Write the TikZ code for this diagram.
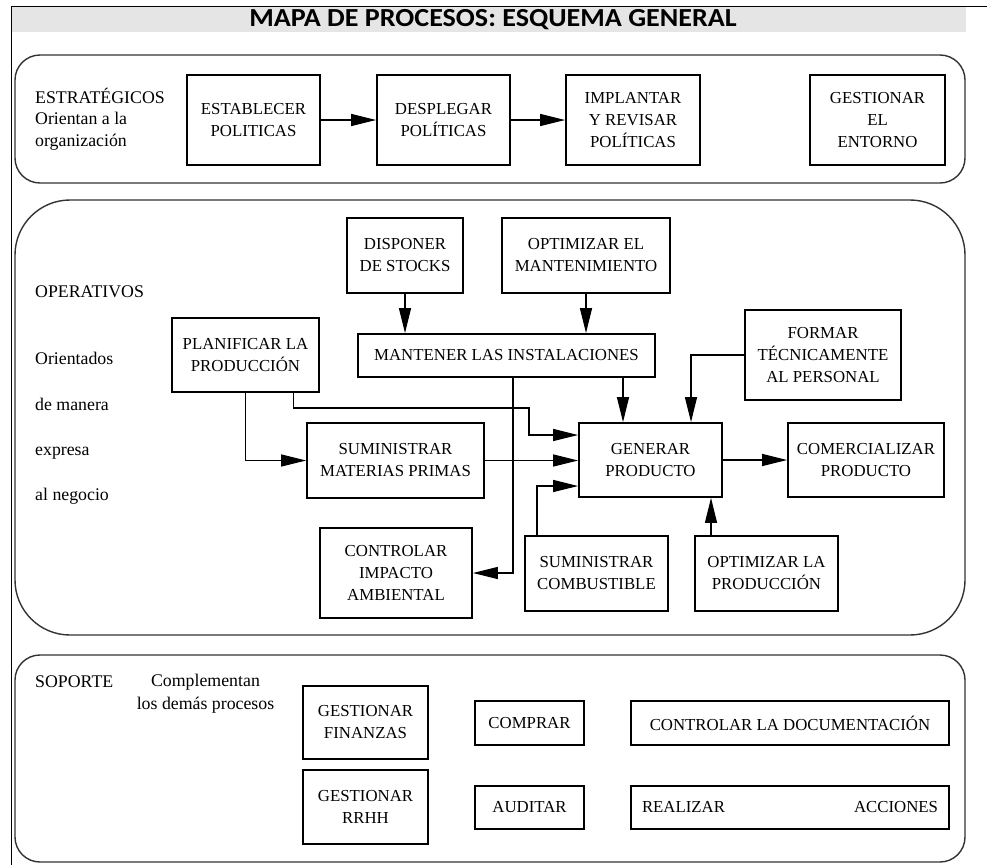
\documentclass[tikz,border=0pt]{standalone}
\usepackage{fontspec}
\setmainfont{Liberation Serif}
\newfontfamily\titlefont{Carlito}
\usetikzlibrary{arrows.meta}
\tikzset{
    proc_node/.style 2 args = {draw=black, line width=1.8pt, align=center, inner sep=0pt, minimum width=#1, minimum height=#2, font=\fontsize{16.8}{22}\selectfont},
    group_box/.style = {draw=black!80, line width=1.4pt},
    side_label/.style = {anchor=west, align=left, inner sep=0pt, font=\fontsize{17.8}{21.5}\selectfont},
    link/.style = {line width=1.2pt, ->}
}

\begin{document}
\begin{tikzpicture}[x=1pt, y=-1pt, >={Triangle[length=25pt, width=12pt]}]
    \useasboundingbox (0,0) rectangle (987,865);
    % page frame and title
    \fill[black!10] (12,7) rectangle (966,32);
    \draw[line width=1pt] (11,865) -- (11,6) -- (987,6);
    \node[xscale=1.08] (title) at (493,20) {\titlefont\bfseries\fontsize{26}{28}\selectfont MAPA DE PROCESOS: ESQUEMA GENERAL};

    % groups
    \draw[group_box, rounded corners=25pt] (15,55) rectangle (965,183);
    \draw[group_box, rounded corners=55pt] (15,200) rectangle (965,635);
    \draw[group_box, rounded corners=25pt] (15,655) rectangle (965,862);

    % estrategicos
    \node[side_label] (estr) at (35,119) {ESTRATÉGICOS\\Orientan a la\\organización};
    \node[proc_node={133pt}{90pt}] (estab) at (253.5,120) {ESTABLECER\\POLITICAS};
    \node[proc_node={133pt}{90pt}] (despl) at (443.5,120) {DESPLEGAR\\POLÍTICAS};
    \node[proc_node={134pt}{90pt}] (implan) at (633,120) {IMPLANTAR\\Y REVISAR\\POLÍTICAS};
    \node[proc_node={135pt}{90pt}] (entorno) at (877.5,120) {GESTIONAR\\EL\\ENTORNO};
    \draw[link] (estab) -- (despl);
    \draw[link] (despl) -- (implan);

    % operativos
    \node[side_label] (oper) at (35,292) {OPERATIVOS};
    \node[side_label, font=\fontsize{17.8}{45.2}\selectfont] (orient) at (35,428.5) {Orientados\\de manera\\expresa\\al negocio};
    \node[proc_node={116pt}{75pt}] (stocks) at (405,255.5) {DISPONER\\DE STOCKS};
    \node[proc_node={168pt}{75pt}] (optmant) at (586,255.5) {OPTIMIZAR EL\\MANTENIMIENTO};
    \node[proc_node={297pt}{43pt}] (manten) at (506.5,355.5) {MANTENER LAS INSTALACIONES};
    \node[proc_node={147pt}{74pt}] (planif) at (245.5,355) {PLANIFICAR LA\\PRODUCCIÓN};
    \node[proc_node={156pt}{90pt}] (formar) at (823,355) {FORMAR\\TÉCNICAMENTE\\AL PERSONAL};
    \node[proc_node={177pt}{75pt}] (sumin) at (395.5,460.5) {SUMINISTRAR\\MATERIAS PRIMAS};
    \node[proc_node={143pt}{74pt}] (generar) at (650.5,460) {GENERAR\\PRODUCTO};
    \node[proc_node={156pt}{74pt}] (comerc) at (866,460) {COMERCIALIZAR\\PRODUCTO};
    \node[proc_node={152pt}{90pt}] (impacto) at (396,573) {CONTROLAR\\IMPACTO\\AMBIENTAL};
    \node[proc_node={143pt}{75pt}] (combust) at (596.5,573.5) {SUMINISTRAR\\COMBUSTIBLE};
    \node[proc_node={143pt}{75pt}] (optprod) at (766.5,573.5) {OPTIMIZAR LA\\PRODUCCIÓN};

    \draw[link] (stocks.south) -- (stocks.south |- manten.north);
    \draw[link] (optmant.south) -- (optmant.south |- manten.north);
    \draw[link] (planif.south) |- (sumin.west);
    \draw[link] ([xshift=48pt]planif.south) |- (529,408) |- ([yshift=25pt]generar.west);
    \draw[link] (sumin.east) -- (sumin.east -| generar.west);
    \draw[link] ([xshift=-59.5pt]combust.north) |- ([yshift=-26pt]generar.west);
    \draw[link] ([xshift=6.5pt]manten.south) |- (impacto.east);
    \draw[link] ([xshift=-27.5pt]generar.north |- manten.south) -- ([xshift=-27.5pt]generar.north);
    \draw[link] (formar.west) -| ([xshift=40.5pt]generar.north);
    \draw[link] (generar.east) -- (comerc.west);
    \draw[link] ([xshift=-55.5pt]optprod.north) -- ([xshift=-55.5pt]optprod.north |- generar.south);

    % soporte
    \node[side_label] (sop) at (35,682) {SOPORTE};
    \node[inner sep=0pt, align=center, font=\fontsize{17.8}{23}\selectfont] (compl) at (205.5,693.5) {Complementan\\los demás procesos};
    \node[proc_node={125pt}{73pt}] (finanzas) at (365.5,722.5) {GESTIONAR\\FINANZAS};
    \node[proc_node={125pt}{74pt}] (rrhh) at (365.5,807) {GESTIONAR\\RRHH};
    \node[proc_node={109pt}{44pt}] (comprar) at (529.5,723) {COMPRAR};
    \node[proc_node={109pt}{43pt}] (auditar) at (529.5,807.5) {AUDITAR};
    \node[proc_node={318pt}{44pt}] (docum) at (790,723) {CONTROLAR LA DOCUMENTACIÓN};
    \node[proc_node={318pt}{43pt}, text width=296pt] (acciones) at (790,807.5) {REALIZAR\hfill ACCIONES};
\end{tikzpicture}
\end{document}
